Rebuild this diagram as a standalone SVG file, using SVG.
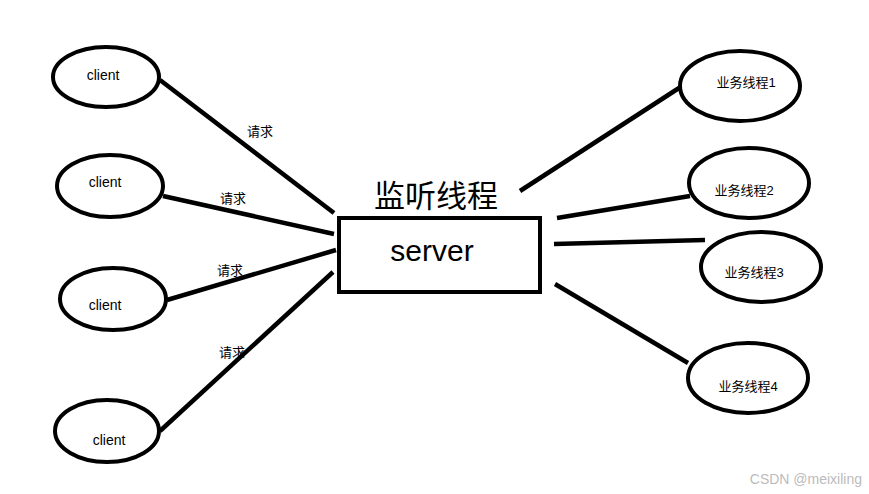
<svg xmlns="http://www.w3.org/2000/svg" width="869" height="494" viewBox="0 0 869 494">
<style>
.n{fill:#fff;stroke:#000;stroke-width:4}
.c line{stroke:#000;stroke-width:4.5}
.t{font-family:"Liberation Sans","Noto Sans CJK SC",sans-serif;fill:#000;text-anchor:middle}
.s{font-size:14px}
.l{font-size:13px}
</style>
<rect width="869" height="494" fill="#fff"/>
<g class="c">
<line x1="160" y1="80" x2="334" y2="213"/>
<line x1="163" y1="196" x2="334" y2="234"/>
<line x1="167" y1="300" x2="336" y2="250"/>
<line x1="160" y1="431" x2="333" y2="272"/>
<line x1="520" y1="191" x2="679" y2="88"/>
<line x1="557" y1="218" x2="690" y2="196"/>
<line x1="554" y1="244" x2="705" y2="240"/>
<line x1="555" y1="284" x2="688" y2="363"/>
<text class="t l" x="260" y="136">请求</text>
<text class="t l" x="233" y="203">请求</text>
<text class="t l" x="230" y="275">请求</text>
<text class="t l" x="232" y="357">请求</text>
</g>
<g id="client1"><ellipse class="n" cx="106" cy="77" rx="53" ry="30"/><text class="t s" x="103" y="80">client</text></g>
<g id="client2"><ellipse class="n" cx="110" cy="186" rx="53" ry="31"/><text class="t s" x="105" y="187">client</text></g>
<g id="client3"><ellipse class="n" cx="113" cy="299" rx="53" ry="31"/><text class="t s" x="105" y="310">client</text></g>
<g id="client4"><ellipse class="n" cx="107" cy="431" rx="52" ry="31"/><text class="t s" x="109" y="445">client</text></g>
<g id="server">
<text class="t" x="436" y="207" style="font-size:31px">监听线程</text>
<rect class="n" x="339" y="218" width="201" height="74"/>
<text class="t" x="432" y="261" style="font-size:30px">server</text>
</g>
<g id="w1"><ellipse class="n" cx="740" cy="86" rx="60" ry="35"/><text class="t l" x="746" y="87">业务线程1</text></g>
<g id="w2"><ellipse class="n" cx="749" cy="183" rx="60" ry="35"/><text class="t l" x="744" y="195">业务线程2</text></g>
<g id="w3"><ellipse class="n" cx="761" cy="267" rx="60" ry="35"/><text class="t l" x="754" y="277">业务线程3</text></g>
<g id="w4"><ellipse class="n" cx="748" cy="378" rx="60" ry="35"/><text class="t l" x="748" y="391">业务线程4</text></g>
<text x="862" y="484" style="font-family:'Liberation Sans',sans-serif;font-size:14px;fill:#bbb;text-anchor:end">CSDN @meixiling</text>
</svg>
